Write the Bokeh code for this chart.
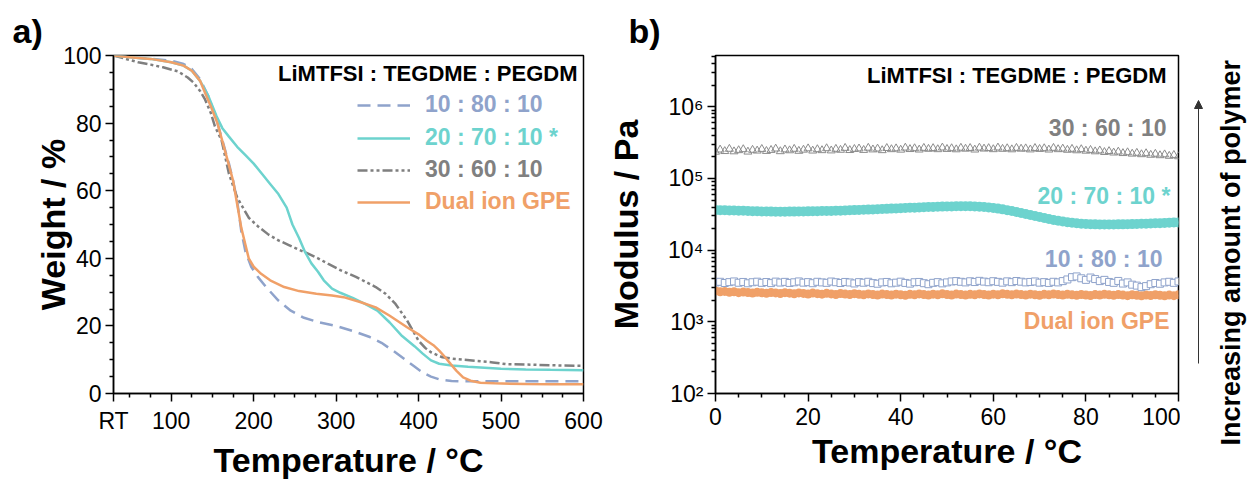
import math
from bokeh.plotting import figure
from bokeh.layouts import row
from bokeh.models import FixedTicker, Legend, LegendItem, Label, Arrow, NormalHead, Range1d, Title
from bokeh.embed import file_html
from bokeh.resources import INLINE

FONT = "Liberation Sans"

C_BLUE = "#8FA3CB"
C_TEAL = "#6DD3CE"
C_GRAY = "#7F7F7F"
C_ORANGE = "#F0A068"

# ---------------- panel a) TGA : weight (%) vs temperature (°C)
tga_temp_10_80_10 = [30, 50, 75, 100, 115, 125, 135, 145, 155, 162, 170, 175, 180, 185, 190, 197, 205, 215,
                     230, 245, 260, 280, 300, 320, 340, 355, 370, 385, 395, 405, 415, 425, 440, 460, 500, 550, 600]
tga_weight_10_80_10 = [100, 99.5, 99, 98.5, 97.5, 96, 93, 88, 81, 75, 68, 63, 57, 48, 42, 37.5, 34.5, 31.5,
                       27.5, 24.5, 22.5, 21, 20, 18.5, 16.8, 15, 12.5, 9.8, 8, 6.2, 5, 4.2, 3.7, 3.6, 3.6, 3.6, 3.6]

tga_temp_20_70_10 = [30, 50, 75, 100, 115, 125, 135, 145, 155, 162, 170, 180, 190, 200, 210, 220, 230, 240,
                     247, 255, 262, 270, 278, 285, 295, 305, 320, 335, 350, 365, 380, 395, 405, 415, 425,
                     440, 460, 480, 500, 530, 560, 600]
tga_weight_20_70_10 = [100, 99.5, 99, 98, 97, 95.5, 92.5, 88, 82, 78.5, 76, 73, 70.5, 68, 65, 62, 59, 55,
                       50, 46, 42, 38.5, 36, 33.5, 31, 29.8, 28.3, 26.5, 24.5, 21, 17, 14, 11.8, 9.8, 8.8,
                       8.3, 7.9, 7.6, 7.3, 7.1, 7.0, 6.9]

tga_temp_30_60_10 = [30, 45, 60, 75, 90, 108, 120, 127, 135, 141, 148, 153, 161, 170, 180, 187, 194, 205,
                     218, 230, 242, 255, 266, 278, 290, 305, 324, 336, 348, 360, 372, 386, 400, 408, 415,
                     429, 445, 468, 490, 506, 540, 570, 600]
tga_weight_30_60_10 = [100, 99, 98, 97.3, 96.5, 95.3, 93.5, 92, 89.5, 87, 83, 79, 75, 65, 58, 55, 52, 49.5,
                       47, 45.3, 44, 42.5, 41.4, 40, 38.4, 36.5, 34.5, 33, 31.5, 29.5, 26.5, 21.6, 15.6, 13.5,
                       12.2, 10.7, 10.2, 9.7, 9.2, 8.7, 8.5, 8.3, 8.2]

tga_temp_dual = [30, 50, 75, 100, 115, 125, 135, 141, 148, 156, 165, 170, 175, 180, 185, 190, 194, 200, 209,
                 220, 237, 255, 276, 295, 309, 330, 348, 365, 386, 400, 410, 418, 425, 432, 439, 446, 454,
                 463, 475, 492, 530, 560, 600]
tga_weight_dual = [100, 99.5, 99, 98, 97, 95.5, 92.5, 89, 85, 80, 72, 67.5, 63, 56, 49, 44, 40, 37.5, 35.4,
                   33.5, 31.5, 30.3, 29.5, 29, 28.5, 27, 25.5, 23, 19.6, 17.5, 15.6, 14.3, 12.7, 10.8, 8.7,
                   6.7, 4.8, 3.8, 3.2, 3.0, 2.8, 2.7, 2.7]

tga_x_ticks = [30, 100, 200, 300, 400, 500, 600]
tga_x_tick_labels = {30: "RT"}
tga_x_minor = [50, 75, 125, 150, 175, 225, 250, 275, 325, 350, 375, 425, 450, 475, 525, 550, 575]
tga_y_ticks = [0, 20, 40, 60, 80, 100]
tga_y_minor = [5, 10, 15, 25, 30, 35, 45, 50, 55, 65, 70, 75, 85, 90, 95]

# ---------------- panel b) modulus (kPa) vs temperature (°C)
rheo_temp = list(range(0, 101))
mod_kpa_30_60_10 = [
    235, 252, 240, 258, 238, 247, 255, 236, 250, 244, 257,
    241, 249, 260, 239, 253, 246, 258, 242, 251, 262,
    244, 255, 247, 263, 245, 258, 250, 266, 248, 257,
    261, 249, 267, 253, 260, 247, 265, 255, 262, 251,
    268, 256, 263, 252, 266, 258, 264, 255, 269, 257,
    263, 254, 267, 259, 265, 252, 268, 260, 264, 255,
    269, 258, 263, 254, 266, 259, 262, 253, 265, 257,
    263, 252, 266, 255, 260, 250, 258, 246, 255, 243,
    249, 238, 245, 233, 240, 229, 236, 225, 231, 221,
    227, 217, 224, 213, 220, 210, 216, 206, 212, 203, 208]
mod_kpa_20_70_10 = [
    36.2, 36.1, 36.0, 35.8, 35.7, 35.5, 35.4, 35.2, 35.0, 34.9, 34.7,
    34.6, 34.5, 34.4, 34.4, 34.4, 34.5, 34.5, 34.6, 34.7, 34.8,
    34.9, 35.0, 35.1, 35.2, 35.3, 35.5, 35.6, 35.8, 36.0, 36.2,
    36.4, 36.6, 36.8, 37.0, 37.2, 37.5, 37.7, 38.0, 38.2, 38.5,
    38.7, 39.0, 39.2, 39.5, 39.7, 39.9, 40.1, 40.3, 40.5, 40.7,
    40.8, 40.9, 41.0, 41.0, 40.9, 40.7, 40.4, 40.0, 39.5, 38.8,
    38.0, 37.1, 36.1, 35.1, 34.0, 33.0, 31.9, 30.9, 29.9, 29.0,
    28.1, 27.2, 26.4, 25.7, 25.1, 24.5, 24.1, 23.7, 23.4, 23.2,
    23.0, 22.9, 22.8, 22.8, 22.8, 22.8, 22.9, 22.9, 23.0, 23.1,
    23.2, 23.3, 23.4, 23.5, 23.7, 23.8, 24.0, 24.1, 24.3, 24.4, 24.5]
mod_kpa_10_80_10 = [
    3.55, 3.62, 3.48, 3.58, 3.66, 3.51, 3.60, 3.45, 3.57, 3.63, 3.50,
    3.59, 3.47, 3.64, 3.53, 3.61, 3.49, 3.56, 3.66, 3.52, 3.58,
    3.46, 3.62, 3.55, 3.50, 3.65, 3.57, 3.48, 3.60, 3.54, 3.43,
    3.58, 3.51, 3.62, 3.47, 3.40, 3.55, 3.60, 3.45, 3.52, 3.63,
    3.49, 3.41, 3.57, 3.60, 3.46, 3.35, 3.50, 3.58, 3.44, 3.55,
    3.66, 3.70, 3.62, 3.55, 3.68, 3.59, 3.73, 3.64, 3.57, 3.69,
    3.61, 3.52, 3.67, 3.58, 3.71, 3.63, 3.55, 3.60, 3.66, 3.52,
    3.58, 3.49, 3.62, 3.55, 3.70, 3.90, 4.20, 4.30, 4.05, 3.85,
    4.15, 3.95, 3.70, 3.85, 3.60, 3.50, 3.72, 3.42, 3.55, 3.30,
    3.20, 3.05, 3.15, 3.35, 3.48, 3.40, 3.55, 3.62, 3.50, 3.66, 3.60]
mod_kpa_dual = [
    2.70, 2.62, 2.66, 2.58, 2.63, 2.55, 2.60, 2.57, 2.52, 2.59, 2.54,
    2.50, 2.57, 2.53, 2.48, 2.55, 2.51, 2.46, 2.53, 2.49, 2.44,
    2.52, 2.47, 2.43, 2.50, 2.45, 2.41, 2.48, 2.44, 2.40, 2.47,
    2.42, 2.38, 2.45, 2.41, 2.37, 2.44, 2.40, 2.36, 2.43, 2.39,
    2.35, 2.42, 2.38, 2.45, 2.40, 2.36, 2.43, 2.39, 2.46, 2.41,
    2.37, 2.44, 2.40, 2.36, 2.42, 2.38, 2.45, 2.41, 2.37, 2.43,
    2.39, 2.46, 2.42, 2.38, 2.44, 2.40, 2.36, 2.43, 2.39, 2.35,
    2.42, 2.38, 2.44, 2.40, 2.36, 2.42, 2.38, 2.34, 2.41, 2.37,
    2.33, 2.40, 2.36, 2.42, 2.38, 2.34, 2.40, 2.36, 2.32, 2.39,
    2.35, 2.31, 2.37, 2.33, 2.39, 2.35, 2.31, 2.36, 2.32, 2.38, 2.34]

rheo_x_ticks = [0, 20, 40, 60, 80, 100]
rheo_x_minor = [5, 10, 15, 25, 30, 35, 45, 50, 55, 65, 70, 75, 85, 90, 95]
rheo_y_ticks = [1e2, 1e3, 1e4, 1e5, 1e6]
rheo_y_tick_labels = {1e2: "10²", 1e3: "10³", 1e4: "10⁴", 1e5: "10⁵", 1e6: "10⁶"}
rheo_y_minor = [m * d for d in [1e2, 1e3, 1e4, 1e5] for m in range(2, 10)] + [2e6, 3e6, 4e6, 5e6]

series_labels = ["10 : 80 : 10", "20 : 70 : 10 *", "30 : 60 : 10", "Dual ion GPE"]
header = "LiMTFSI : TEGDME : PEGDM"
side_caption = "Increasing amount of polymer"


def style(p, xlabel, ylabel, ylabel_standoff, panel_tag, tag_offset):
    p.grid.visible = False
    p.outline_line_color = "black"
    p.outline_line_width = 1.5
    p.background_fill_color = "white"
    p.border_fill_color = "white"
    for ax in (p.xaxis[0], p.yaxis[0]):
        ax.axis_line_width = 1.5
        ax.axis_line_color = "black"
        ax.major_tick_line_width = 1.5
        ax.minor_tick_line_width = 1.5
        ax.major_tick_out = 8
        ax.major_tick_in = 0
        ax.minor_tick_out = 4
        ax.minor_tick_in = 0
        ax.major_label_text_font = FONT
        ax.major_label_text_font_size = "23px"
        ax.major_label_text_color = "black"
        ax.axis_label_text_font = FONT
        ax.axis_label_text_font_size = "34px"
        ax.axis_label_text_font_style = "bold"
        ax.axis_label_text_color = "black"
    p.xaxis.major_label_standoff = 6
    p.yaxis.major_label_standoff = 4
    p.xaxis.axis_label = xlabel
    p.yaxis.axis_label = ylabel
    p.xaxis.axis_label_standoff = 4
    p.yaxis.axis_label_standoff = ylabel_standoff
    p.title.text = panel_tag
    p.title.align = "left"
    p.title.offset = tag_offset
    p.title.standoff = 11
    p.title.text_font = FONT
    p.title.text_font_size = "34px"
    p.title.text_font_style = "bold"
    p.title.text_color = "black"


def label(p, text, x, y, size="23px", color="black", align="left", baseline="middle", angle=0.0):
    p.add_layout(Label(x=x, y=y, x_units="screen", y_units="screen", text=text,
                       text_font=FONT, text_font_size=size, text_font_style="bold",
                       text_color=color, text_align=align, text_baseline=baseline, angle=angle))


def blank(width, border_left):
    p = figure(width=width, height=481, x_range=Range1d(0, 1), y_range=Range1d(0, 1),
               x_axis_type=None, y_axis_type=None, output_backend="svg", toolbar_location=None,
               min_border_left=border_left, min_border_right=0, min_border_top=0, min_border_bottom=0)
    p.grid.visible = False
    p.outline_line_color = None
    p.background_fill_color = "white"
    p.border_fill_color = "white"
    return p


# ---------------- figure a)
p1 = figure(width=604, height=481, x_range=Range1d(30, 600), y_range=Range1d(0, 100),
            output_backend="svg", toolbar_location=None,
            min_border_left=113, min_border_right=21, min_border_top=55, min_border_bottom=88)
style(p1, "Temperature / °C", "Weight / %", -12, "a)", -101)
p1.xaxis.ticker = FixedTicker(ticks=tga_x_ticks, minor_ticks=tga_x_minor)
p1.xaxis.major_label_overrides = tga_x_tick_labels
p1.yaxis.ticker = FixedTicker(ticks=tga_y_ticks, minor_ticks=tga_y_minor)

r_a1 = p1.line(tga_temp_10_80_10, tga_weight_10_80_10, line_color=C_BLUE, line_width=2.5, line_dash="13 7")
r_a3 = p1.line(tga_temp_30_60_10, tga_weight_30_60_10, line_color=C_GRAY, line_width=2.5, line_dash="10 3 3 3 3 3")
r_a2 = p1.line(tga_temp_20_70_10, tga_weight_20_70_10, line_color=C_TEAL, line_width=2.5)
r_a4 = p1.line(tga_temp_dual, tga_weight_dual, line_color=C_ORANGE, line_width=2.5)

leg_centers = [288, 255, 223, 191]
for rend, lab, col, cy in zip([r_a1, r_a2, r_a3, r_a4], series_labels,
                              [C_BLUE, C_TEAL, "#808080", C_ORANGE], leg_centers):
    leg = Legend(items=[LegendItem(label=lab, renderers=[rend])], location=(244, cy - 13),
                 background_fill_alpha=0, border_line_alpha=0, padding=0, margin=0, spacing=0,
                 glyph_width=53, glyph_height=26, label_height=26, label_standoff=15,
                 label_text_font=FONT, label_text_font_size="23px", label_text_font_style="bold",
                 label_text_color=col)
    p1.add_layout(leg)

label(p1, header, 464, 320, size="22px", align="right")

# ---------------- figure b)
p2 = figure(width=576, height=481, x_range=Range1d(0, 100), y_range=Range1d(1e2, 5.2e6), y_axis_type="log",
            output_backend="svg", toolbar_location=None,
            min_border_left=107, min_border_right=2, min_border_top=55, min_border_bottom=88)
style(p2, "Temperature / °C", "Modulus / Pa", 20, "b)", -87)
p2.xaxis.ticker = FixedTicker(ticks=rheo_x_ticks, minor_ticks=rheo_x_minor)
p2.yaxis.ticker = FixedTicker(ticks=rheo_y_ticks, minor_ticks=rheo_y_minor)
p2.yaxis.major_label_overrides = rheo_y_tick_labels

mod_pa_30 = [v * 1000 for v in mod_kpa_30_60_10]
mod_pa_20 = [v * 1000 for v in mod_kpa_20_70_10]
mod_pa_10 = [v * 1000 for v in mod_kpa_10_80_10]
mod_pa_dual = [v * 1000 for v in mod_kpa_dual]

p2.scatter(rheo_temp, mod_pa_30, marker="triangle", size=8, fill_color=None, line_color="#8c8c8c", line_width=1)
p2.scatter(rheo_temp, mod_pa_20, marker="circle", size=10, fill_color=C_TEAL, line_color=None)
p2.scatter(rheo_temp, mod_pa_dual, marker="circle", size=9, fill_color=C_ORANGE, line_color=None)
p2.scatter(rheo_temp, mod_pa_10, marker="square", size=7, fill_color="white", line_color=C_BLUE, line_width=1)

label(p2, header, 451, 318, size="22px", align="right")
label(p2, series_labels[2], 451, 266, color="#808080", align="right")
label(p2, series_labels[1], 455, 198, color=C_TEAL, align="right")
label(p2, series_labels[0], 447, 135, color=C_BLUE, align="right")
label(p2, series_labels[3], 454, 73, color=C_ORANGE, align="right")

# ---------------- strip with the arrow
p3 = blank(30, 0)
p3.add_layout(Arrow(end=NormalHead(size=8, fill_color="#333333", line_color="#333333"),
                    x_start=18, y_start=30, x_end=18, y_end=293,
                    start_units="screen", end_units="screen", line_color="#333333", line_width=1))

# ---------------- strip with the rotated caption
p4 = blank(37, 35)
p4.add_layout(Title(text=side_caption, align="left", offset=-52, standoff=0,
                    text_font=FONT, text_font_size="27px", text_font_style="bold", text_color="black"),
              "left")

layout = row(p1, p2, p3, p4)
open("out.html", "w").write(file_html(layout, INLINE))
